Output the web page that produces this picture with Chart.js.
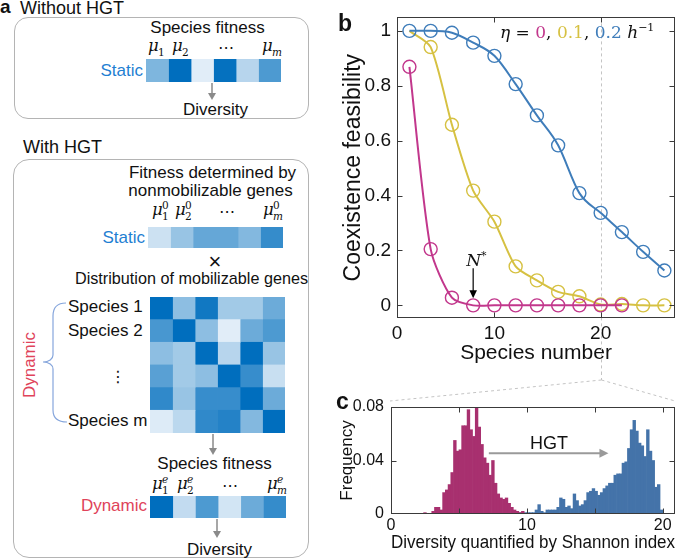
<!DOCTYPE html>
<html><head><meta charset="utf-8">
<script src="https://cdn.jsdelivr.net/npm/chart.js@4.4.1/dist/chart.umd.min.js"></script>
<style>
html,body{margin:0;padding:0;background:#fff;}
#fig{position:relative;width:685px;height:560px;overflow:hidden;font-family:'Liberation Sans',Arial,sans-serif;color:#111;background:#fff;}
.t{position:absolute;white-space:nowrap;line-height:1;}
.t sup{font-size:11px;line-height:0;vertical-align:7px;}
.box{position:absolute;border:1.3px solid #b4b4b4;box-sizing:border-box;}
canvas{position:absolute;}
svg{position:absolute;left:0;top:0;}
</style></head><body><div id="fig"></div>
<script>
// ---------------- data ----------------
// panel b: coexistence feasibility vs species number
const speciesN   = [2, 4, 6, 8, 10, 12, 14, 16, 18, 20, 22, 24, 26];
const feasEta0   = [0.869, 0.205, 0.028, 0, 0, 0, 0, 0, 0, 0, 0];          // eta = 0 (x = 2..22)
const feasEta01  = [1.0, 0.941, 0.658, 0.418, 0.305, 0.142, 0.091, 0.049, 0.033, 0.003, 0.005, 0, 0];
const feasEta02  = [1.0, 1.0, 0.993, 0.957, 0.909, 0.806, 0.692, 0.583, 0.409, 0.337, 0.267, 0.195, 0.127];
const feasTicksY = [0, 0.2, 0.4, 0.6, 0.8, 1];
const feasTicksX = [10, 20];

// panel c: histogram of Shannon diversity (bin centres, bin width 0.2)
const binsNoHGT = [2.5,2.7,2.9,3.1,3.3,3.5,3.7,3.9,4.1,4.3,4.5,4.7,4.9,5.1,5.3,5.5,5.7,5.9,6.1,6.3,6.5,6.7,6.9,7.1,7.3,7.5,7.7,7.9,8.1,8.3,8.5,8.7,8.9,9.1,9.3,9.5,9.7];
const freqNoHGT = [0.001,0,0,0.002,0.005,0.005,0.003,0.016,0.018,0.022,0.031,0.055,0.047,0.048,0.066,0.066,0.078,0.063,0.058,0.08,0.065,0.052,0.042,0.038,0.029,0.04,0.023,0.015,0.012,0.011,0.012,0.008,0.005,0.003,0.002,0.001,0.002];
const binsHGT = [9.1,9.3,9.5,9.7,9.9,10.1,10.3,10.5,10.7,10.9,11.1,11.3,11.5,11.7,11.9,12.1,12.3,12.5,12.7,12.9,13.1,13.3,13.5,13.7,13.9,14.1,14.3,14.5,14.7,14.9,15.1,15.3,15.5,15.7,15.9,16.1,16.3,16.5,16.7,16.9,17.1,17.3,17.5,17.7,17.9,18.1,18.3,18.5,18.7,18.9,19.1,19.3,19.5,19.7,19.9];
const freqHGT  = [0.001,0.002,0.001,0,0.001,0.001,0.001,0.001,0.003,0.007,0.002,0.001,0.003,0.003,0.003,0.003,0.005,0.012,0.011,0.005,0.006,0.004,0.015,0.01,0.006,0.007,0.01,0.016,0.017,0.019,0.017,0.014,0.016,0.019,0.021,0.023,0.023,0.029,0.03,0.03,0.038,0.039,0.049,0.063,0.07,0.062,0.053,0.051,0.043,0.063,0.047,0.04,0.02,0.022,0.003];
const histTicksX = [0, 5, 10, 15, 20];
const histTicksY = [0, 0.04, 0.08];

// panel a: schematic heat-map intensities (0 = light, 1 = dark)
const fitnessStatic  = [[0.47, 1.0, 0.0, 0.98, 0.2, 0.68]];
const fitnessBase    = [[0.1, 0.35, 0.58, 0.58, 0.45, 0.78]];
const mobileGenes    = [
  [1.0, 0.4, 0.93, 0.3, 0.3, 0.55],
  [0.7, 1.0, 0.4, 0.0, 0.55, 0.68],
  [0.4, 0.3, 1.0, 0.2, 1.0, 0.35],
  [0.63, 0.3, 0.4, 1.0, 0.77, 0.12],
  [0.8, 0.35, 0.77, 0.77, 1.0, 0.55],
  [0.02, 0.18, 0.8, 0.85, 0.45, 1.0]
];
const fitnessDynamic = [[1.0, 0.15, 0.68, 0.07, 0.55, 0.78]];

// ---------------- styles ----------------
const C_MAG = '#c2378c', C_YEL = '#d6c142', C_BLU = '#3f7dba';
const C_HMAG = '#a8306f', C_HBLU = '#4473a9';
Chart.defaults.font.family = "'Liberation Sans', Arial, sans-serif";
Chart.defaults.color = '#111';

const fig = document.getElementById('fig');
function addText(html, x, base, size, o = {}) {
  const d = document.createElement('div');
  d.className = 't'; d.innerHTML = html;
  d.style.fontSize = size + 'px';
  if (o.family) d.style.fontFamily = o.family;
  if (o.weight) d.style.fontWeight = o.weight;
  if (o.color) d.style.color = o.color;
  d.style.top = (base - 0.85 * size) + 'px';
  const a = o.align || 'l';
  if (a === 'l') d.style.left = x + 'px';
  else if (a === 'c') { d.style.left = x + 'px'; d.style.transform = 'translateX(-50%)'; }
  else d.style.right = (685 - x) + 'px';
  fig.appendChild(d); return d;
}
function addBox(l, t, w, h, r) {
  const d = document.createElement('div'); d.className = 'box';
  Object.assign(d.style, {left: l + 'px', top: t + 'px', width: w + 'px', height: h + 'px', borderRadius: r + 'px'});
  fig.appendChild(d);
}
function mkCanvas(l, t, w, h) {
  const c = document.createElement('canvas');
  c.width = w; c.height = h;
  Object.assign(c.style, {left: l + 'px', top: t + 'px', width: w + 'px', height: h + 'px'});
  fig.appendChild(c); return c;
}
const SERIF = "'DejaVu Serif', 'Liberation Serif', serif";
function mu(x, base, sub, sup) {
  addText('<i>μ</i>', x, base, 16.5, {family: SERIF});
  addText(sub, x + 10, base + 4, 10.5, {family: SERIF});
  if (sup) addText(sup, x + 10, base - 7, 10.5, {family: SERIF});
}

// colour map for schematic cells
function cmap(t) {
  const s0 = [225, 237, 248], s1 = [120, 178, 220], s2 = [0, 110, 190];
  let a, b, u;
  if (t < 0.5) { a = s0; b = s1; u = t / 0.5; } else { a = s1; b = s2; u = (t - 0.5) / 0.5; }
  const c = a.map((v, i) => Math.round(v + (b[i] - v) * u));
  return `rgb(${c[0]},${c[1]},${c[2]})`;
}
function heat(rows, l, t, w, h) {
  const cv = mkCanvas(l, t, w, h);
  const ncol = rows[0].length;
  const datasets = [];
  for (let j = 0; j < ncol; j++) {
    datasets.push({data: rows.map(() => 1), backgroundColor: rows.map(r => cmap(r[j])),
      borderWidth: 0, barPercentage: 1, categoryPercentage: 1, inflateAmount: 0.4});
  }
  new Chart(cv, {type: 'bar', data: {labels: rows.map((_, i) => 'row' + (i + 1)), datasets},
    options: {indexAxis: 'y', responsive: false, animation: false, events: [],
      layout: {padding: 0},
      plugins: {legend: {display: false}, tooltip: {enabled: false}},
      scales: {x: {display: false, stacked: true, min: 0, max: ncol},
               y: {display: false, stacked: true}}}});
}

// plugin: frame with inner ticks, reference line, arrows
const framePlugin = {
  id: 'frame',
  beforeDatasetsDraw(chart, args, o) {
    if (o.vline === undefined) return;
    const {ctx, chartArea: a} = chart;
    const x = Math.round(chart.scales.x.getPixelForValue(o.vline)) + 0.5;
    ctx.save(); ctx.strokeStyle = '#c4c4c4'; ctx.lineWidth = 1; ctx.setLineDash([3, 3]);
    ctx.beginPath(); ctx.moveTo(x, a.top); ctx.lineTo(x, chart.height); ctx.stroke(); ctx.restore();
  },
  afterDatasetsDraw(chart, args, o) {
    const {ctx, chartArea: a, scales: {x, y}} = chart;
    ctx.save();
    ctx.strokeStyle = '#3a3a3a'; ctx.lineWidth = 1;
    const L = Math.round(a.left) + 0.5, R = Math.round(a.right) - 0.5, T = Math.round(a.top) + 0.5, B = Math.round(a.bottom) - 0.5;
    ctx.strokeRect(L, T, R - L, B - T);
    ctx.beginPath();
    (o.xt || []).forEach(v => { const p = Math.round(x.getPixelForValue(v)) + 0.5;
      ctx.moveTo(p, B); ctx.lineTo(p, B - 5); ctx.moveTo(p, T); ctx.lineTo(p, T + 5); });
    (o.yt || []).forEach(v => { const p = Math.round(y.getPixelForValue(v)) + 0.5;
      ctx.moveTo(L, p); ctx.lineTo(L + 5, p); ctx.moveTo(R, p); ctx.lineTo(R - 5, p); });
    ctx.stroke();
    (o.arrows || []).forEach(ar => {
      const x1 = x.getPixelForValue(ar.from[0]), y1 = y.getPixelForValue(ar.from[1]);
      const x2 = x.getPixelForValue(ar.to[0]), y2 = y.getPixelForValue(ar.to[1]);
      const ang = Math.atan2(y2 - y1, x2 - x1), cs = Math.cos(ang), sn = Math.sin(ang);
      ctx.strokeStyle = ar.color; ctx.fillStyle = ar.color; ctx.lineWidth = ar.width;
      ctx.beginPath(); ctx.moveTo(x1, y1); ctx.lineTo(x2 - cs * ar.len * 0.7, y2 - sn * ar.len * 0.7); ctx.stroke();
      ctx.beginPath(); ctx.moveTo(x2, y2);
      ctx.lineTo(x2 - cs * ar.len + sn * ar.hw, y2 - sn * ar.len - cs * ar.hw);
      ctx.lineTo(x2 - cs * ar.len - sn * ar.hw, y2 - sn * ar.len + cs * ar.hw);
      ctx.closePath(); ctx.fill();
    });
    ctx.restore();
  }
};

// ---------------- panel a ----------------
addText('a', 0, 13, 19, {weight: 'bold'});
addText('Without HGT', 20, 14, 18);
addBox(14, 17, 295, 102, 14);
addText('Species fitness', 207.5, 33.5, 17, {align: 'c'});
mu(148, 52, '1'); mu(172, 52, '2'); mu(262, 52, '<i>m</i>');
addText('⋯', 226, 54, 16, {align: 'c', family: "'DejaVu Sans', sans-serif"});
addText('Static', 143, 76, 17, {align: 'r', color: '#1f80d2'});
heat(fitnessStatic, 146, 59, 135, 23);
addText('Diversity', 215.5, 115, 17, {align: 'c'});

addText('With HGT', 23, 153, 18);
addBox(13, 159, 296, 399, 16);
addText('Fitness determined by', 212.5, 178, 17, {align: 'c'});
addText('nonmobilizable genes', 210.5, 196, 17, {align: 'c'});
mu(152, 216, '1', '0'); mu(175, 216, '2', '0'); mu(263, 216, '<i>m</i>', '0');
addText('⋯', 227, 218, 16, {align: 'c', family: "'DejaVu Sans', sans-serif"});
addText('Static', 145, 243, 17, {align: 'r', color: '#1f80d2'});
heat(fitnessBase, 148, 227, 135, 21);
addText('×', 215, 270, 22, {align: 'c'});
addText('Distribution of mobilizable genes', 191.5, 284, 16.2, {align: 'c'});
heat(mobileGenes, 150, 297, 135, 136);
addText('Species 1', 68, 312, 17);
addText('Species 2', 68, 336, 17);
addText('⋮', 118, 383, 16, {align: 'c', family: "'DejaVu Sans', sans-serif"});
addText('Species m', 68, 426.5, 17);
const dyn = addText('Dynamic', 0, 0, 17, {color: '#e0435a'});
Object.assign(dyn.style, {left: '29px', top: '365px', transform: 'translate(-50%,-50%) rotate(-90deg)'});
addText('Species fitness', 214.5, 469.5, 17, {align: 'c'});
mu(152, 490, '1', '<i>e</i>'); mu(177, 490, '2', '<i>e</i>'); mu(267, 490, '<i>m</i>', '<i>e</i>');
addText('⋯', 230, 492, 16, {align: 'c', family: "'DejaVu Sans', sans-serif"});
addText('Dynamic', 147, 511.5, 17, {align: 'r', color: '#e0435a'});
heat(fitnessDynamic, 150, 496, 136, 22);
addText('Diversity', 219.5, 555, 17, {align: 'c'});

// ---------------- panel b ----------------
const cvB = mkCanvas(336, 0, 349, 372);
const xMinB = 0.83;
const chartB = new Chart(cvB, {
  type: 'line',
  data: {datasets: [
    {label: 'eta=0.2', data: speciesN.map((x, i) => ({x, y: feasEta02[i]})), borderColor: C_BLU,
     pointBorderColor: C_BLU, cubicInterpolationMode: 'monotone'},
    {label: 'eta=0', data: feasEta0.map((y, i) => ({x: speciesN[i], y})), borderColor: C_MAG,
     pointBorderColor: C_MAG, tension: 0.25},
    {label: 'eta=0.1', data: speciesN.map((x, i) => ({x, y: feasEta01[i]})), borderColor: C_YEL,
     pointBorderColor: C_YEL, tension: 0.25, pointRadius: c => c.dataIndex === 0 ? 0 : 6.5}
  ]},
  options: {
    responsive: false, animation: false, events: [],
    layout: {padding: {top: 14, right: 10, left: 0, bottom: 0}},
    elements: {
      line: {borderWidth: 2, fill: false},
      point: {radius: 6.5, borderWidth: 1.4, backgroundColor: 'rgba(0,0,0,0)'}
    },
    plugins: {legend: {display: false}, tooltip: {enabled: false},
      frame: {xt: feasTicksX, yt: feasTicksY, vline: 20,
        arrows: [{from: [8, 0.135], to: [8, 0.026], color: '#000', width: 1.2, len: 8, hw: 3.8}]}},
    scales: {
      x: {type: 'linear', min: xMinB, max: 27,
        afterBuildTicks: s => { s.ticks = [{value: xMinB}].concat(feasTicksX.map(v => ({value: v}))); },
        ticks: {font: {size: 19}, padding: 4, maxRotation: 0, autoSkip: false,
          callback: v => (v < 1 ? '0' : String(v))},
        grid: {display: false, drawTicks: false}, border: {display: false},
        title: {display: true, text: 'Species number', font: {size: 21}, padding: {top: 0, bottom: 6}},
        afterFit: s => { s.height = 54; }},
      y: {min: -0.046, max: 1.049,
        afterBuildTicks: s => { s.ticks = feasTicksY.map(v => ({value: v})); },
        ticks: {font: {size: 19}, padding: 6, callback: v => String(Math.round(v * 10) / 10)},
        grid: {display: false, drawTicks: false}, border: {display: false},
        title: {display: true, text: 'Coexistence feasibility', font: {size: 23}, padding: {top: 4, bottom: 0}},
        afterFit: s => { s.width = 61; }}
    }
  },
  plugins: [framePlugin]
});
addText('b', 338, 32, 23, {weight: 'bold'});
addText('<i>η</i> = <span style="color:' + C_MAG + '">0</span>, <span style="color:' + C_YEL + '">0.1</span>, <span style="color:' + C_BLU + '">0.2</span> <i>h</i><sup>−1</sup>',
  500, 38, 17, {family: SERIF});
const nx = 336 + chartB.scales.x.getPixelForValue(8);
addText('<i>N</i><sup>*</sup>', nx - 7, 266, 17, {family: SERIF});

// ---------------- panel c ----------------
const cvC = mkCanvas(336, 390, 349, 170);
const chartC = new Chart(cvC, {
  type: 'bar',
  data: {datasets: [
    {label: 'no HGT', data: binsNoHGT.map((x, i) => ({x, y: freqNoHGT[i]})), backgroundColor: C_HMAG},
    {label: 'HGT', data: binsHGT.map((x, i) => ({x, y: freqHGT[i]})), backgroundColor: C_HBLU}
  ]},
  options: {
    responsive: false, animation: false, events: [],
    layout: {padding: {top: 17, right: 10, left: 0, bottom: 0}},
    datasets: {bar: {grouped: false, barPercentage: 1, categoryPercentage: 1, borderWidth: 0}},
    plugins: {legend: {display: false}, tooltip: {enabled: false},
      frame: {xt: [5, 10, 15, 20], yt: [0.04],
        arrows: [{from: [7.2, 0.0455], to: [16.0, 0.0455], color: '#9a9a9a', width: 2, len: 9, hw: 4.5}]}},
    scales: {
      x: {type: 'linear', min: 0, max: 20.9, offset: false,
        afterBuildTicks: s => { s.ticks = histTicksX.map(v => ({value: v})); },
        ticks: {font: {size: 16}, padding: 2, maxRotation: 0, autoSkip: false,
          callback: v => (v % 10 === 0 ? String(v) : '')},
        grid: {display: false, drawTicks: false}, border: {display: false},
        title: {display: true, text: 'Diversity quantified by Shannon index', font: {size: 18}, padding: {top: 0, bottom: 6}},
        afterFit: s => { s.height = 46; }},
      y: {min: 0, max: 0.08,
        afterBuildTicks: s => { s.ticks = histTicksY.map(v => ({value: v})); },
        ticks: {font: {size: 16}, padding: 7, callback: v => String(Math.round(v * 100) / 100)},
        grid: {display: false, drawTicks: false}, border: {display: false},
        title: {display: true, text: 'Frequency', font: {size: 17}, padding: {top: 1, bottom: 0}},
        afterFit: s => { s.width = 55; }}
    }
  },
  plugins: [framePlugin]
});
addText('c', 336, 410, 23, {weight: 'bold'});
addText('HGT', 549, 449, 18, {align: 'c'});

// ---------------- overlay lines ----------------
const x20 = 336 + Math.round(chartB.scales.x.getPixelForValue(20)) + 0.5;
const cL = 336 + chartC.chartArea.left, cR = 336 + chartC.chartArea.right, cT = 390 + chartC.chartArea.top;
const NS = 'http://www.w3.org/2000/svg';
const svg = document.createElementNS(NS, 'svg');
svg.setAttribute('width', 685); svg.setAttribute('height', 560);
svg.innerHTML = `
 <g stroke="#c4c4c4" stroke-width="1" stroke-dasharray="3,3" fill="none">
  <line x1="${x20}" y1="372" x2="${x20}" y2="380"/>
  <line x1="${x20}" y1="380" x2="${cL - 1}" y2="${cT - 6}"/>
  <line x1="${x20}" y1="380" x2="${cR}" y2="${cT - 6}"/>
 </g>
 <g stroke="#8a8a8a" stroke-width="1.5" fill="#8a8a8a">
  <line x1="212" y1="83" x2="212" y2="94"/><polygon stroke="none" points="208,93 216,93 212,100"/>
  <line x1="213" y1="434" x2="213" y2="449"/><polygon stroke="none" points="209,448 217,448 213,455"/>
  <line x1="217" y1="519" x2="217" y2="532"/><polygon stroke="none" points="213,531 221,531 217,538"/>
 </g>
 <path d="M66,303 C58,303 53,307 53,316 L53,355 C53,359 49,362 43,362 C49,362 53,365 53,369 L53,410 C53,418 58,422 67,422"
   stroke="#86a6dc" stroke-width="1.2" fill="none"/>`;
fig.appendChild(svg);
</script></body></html>
